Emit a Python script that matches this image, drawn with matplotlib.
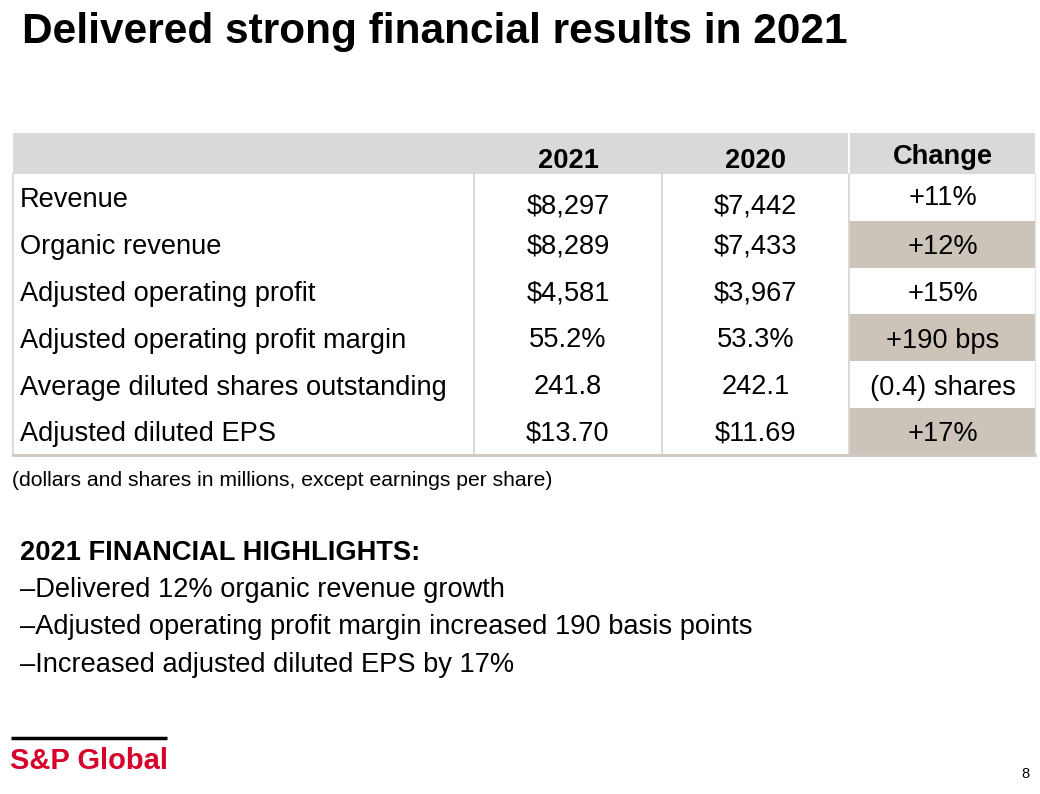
import matplotlib.pyplot as plt
from matplotlib.patches import Rectangle

plt.rcParams["font.family"] = ["Liberation Sans", "DejaVu Sans"]

# ===========================
# Data
# ===========================
title = "Delivered strong financial results in 2021"
col_headers = ["2021", "2020", "Change"]
row_labels = ["Revenue", "Organic revenue", "Adjusted operating profit",
              "Adjusted operating profit margin",
              "Average diluted shares outstanding", "Adjusted diluted EPS"]
vals_2021 = ["$8,297", "$8,289", "$4,581", "55.2%", "241.8", "$13.70"]
vals_2020 = ["$7,442", "$7,433", "$3,967", "53.3%", "242.1", "$11.69"]
changes = ["+11%", "+12%", "+15%", "+190 bps", "(0.4) shares", "+17%"]
shaded = [False, True, False, True, False, True]
footnote = "(dollars and shares in millions, except earnings per share)"
highlights_title = "2021 FINANCIAL HIGHLIGHTS:"
highlights = ["Delivered 12% organic revenue growth",
              "Adjusted operating profit margin increased 190 basis points",
              "Increased adjusted diluted EPS by 17%"]

# ===========================
# Layout (pixel coordinates)
# ===========================
W, H = 1040, 794
fig = plt.figure(figsize=(W / 100, H / 100), dpi=100)
ax = fig.add_axes([0, 0, 1, 1])
ax.set_xlim(0, W)
ax.set_ylim(H, 0)
ax.axis("off")

header_gray = "#D9D9D9"
tan = "#CDC4B9"
line_c = "#D4D4D4"
fs = 19.6
va = "center_baseline"

x_left, x_c1, x_c2, x_c3, x_right = 13, 474, 662, 849, 1035
head_top, head_bot = 133, 174
row_h = 46.8
table_bot = head_bot + row_h * len(row_labels)

# header band
ax.add_patch(Rectangle((x_left, head_top), x_c3 - x_left - 1, head_bot - head_top,
                       color=header_gray, lw=0))
ax.add_patch(Rectangle((x_c3 + 1, head_top), x_right - x_c3 - 1, head_bot - head_top,
                       color=header_gray, lw=0))

# shaded change cells
for i, s in enumerate(shaded):
    if s:
        ax.add_patch(Rectangle((x_c3, head_bot + i * row_h), x_right - x_c3, row_h,
                               color=tan, lw=0))

# grid lines
for x in [x_left, x_c1, x_c2, x_c3]:
    ax.plot([x, x], [head_bot, table_bot], color=line_c, lw=1.2)
ax.plot([x_right, x_right], [head_bot, table_bot], color="#E6E6E6", lw=1)
ax.plot([x_left, x_right], [table_bot, table_bot], color="#CFC8C0", lw=2)

# header text
centers = [568, (x_c2 + x_c3) / 2, (x_c3 + x_right) / 2 + 1]
head_y = [158, 158, 154]
for cx, hy, h in zip(centers, head_y, col_headers):
    ax.text(cx, hy, h, fontsize=fs, fontweight="bold", ha="center", va=va)

# body
for i, lab in enumerate(row_labels):
    cy = head_bot + (i + 0.5) * row_h
    off = 7 if i == 0 else 0
    ax.text(20, cy, lab, fontsize=fs, ha="left", va=va)
    ax.text(centers[0], cy + off - 1, vals_2021[i], fontsize=fs, ha="center", va=va)
    ax.text(centers[1], cy + off - 1, vals_2020[i], fontsize=fs, ha="center", va=va)
    ax.text(centers[2], cy - (2 if i == 0 else 0), changes[i], fontsize=fs,
            ha="center", va=va)

ax.text(12, 479, footnote, fontsize=15.2, ha="left", va=va)

# highlights
ax.text(20, 550, highlights_title, fontsize=fs, fontweight="bold", ha="left", va=va)
for i, h in enumerate(highlights):
    ax.text(20, 587 + i * 37.5, "\u2013" + h, fontsize=fs, ha="left", va=va)

# title
ax.text(22, 28, title, fontsize=30.5, fontweight="bold", ha="left", va=va)

# logo + page number
ax.plot([11, 167], [738, 738], color="black", lw=2.5, solid_capstyle="butt")
ax.text(10, 758, "S&P Global", fontsize=21, fontweight="bold", color="#D6002A",
        ha="left", va=va)
ax.text(1030, 773, "8", fontsize=10.5, ha="right", va=va)

fig.savefig("out.png", dpi=100)
